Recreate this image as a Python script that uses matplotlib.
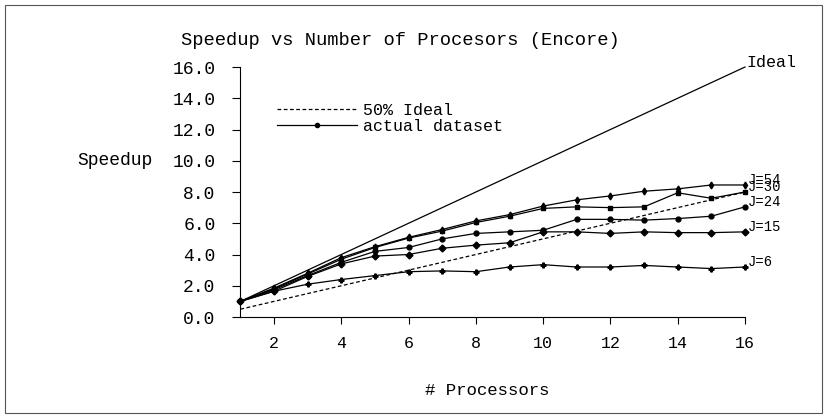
import numpy as np
import matplotlib
matplotlib.use("Agg")
from matplotlib import pyplot as plt
from matplotlib.lines import Line2D
from matplotlib.patches import Rectangle

plt.rcParams['font.family'] = ['Liberation Mono', 'DejaVu Sans Mono']

# data
procs = [1, 2, 3, 4, 5, 6, 7, 8, 9, 10, 11, 12, 13, 14, 15, 16]
ideal = [1, 2, 3, 4, 5, 6, 7, 8, 9, 10, 11, 12, 13, 14, 15, 16]
half_ideal = [0.5, 1.0, 1.5, 2.0, 2.5, 3.0, 3.5, 4.0, 4.5, 5.0, 5.5, 6.0, 6.5, 7.0, 7.5, 8.0]
j54 = [1.0, 1.85, 2.8, 3.8, 4.5, 5.1, 5.6, 6.15, 6.55, 7.1, 7.5, 7.75, 8.05, 8.2, 8.45, 8.45]
j30 = [1.0, 1.8, 2.75, 3.7, 4.45, 5.05, 5.5, 6.05, 6.45, 6.95, 7.05, 7.0, 7.05, 7.95, 7.6, 8.0]
j24 = [1.0, 1.75, 2.65, 3.5, 4.2, 4.45, 5.0, 5.35, 5.45, 5.55, 6.25, 6.25, 6.2, 6.3, 6.45, 7.05]
j15 = [1.0, 1.65, 2.6, 3.4, 3.9, 4.0, 4.4, 4.6, 4.75, 5.45, 5.45, 5.35, 5.45, 5.4, 5.4, 5.45]
j6 = [1.0, 1.65, 2.1, 2.4, 2.65, 2.9, 2.95, 2.9, 3.2, 3.35, 3.2, 3.2, 3.3, 3.2, 3.1, 3.2]

series = [("J=54", j54, 'd'), ("J=30", j30, 's'), ("J=24", j24, 'o'),
          ("J=15", j15, 'D'), ("J=6", j6, 'P')]

fig = plt.figure(figsize=(8.27, 4.17), dpi=100)
ax = fig.add_axes([0.2907, 0.2398, 0.6101, 0.5995])

# border around whole figure
fig.patches.append(Rectangle((0.006, 0.01), 0.988, 0.978, transform=fig.transFigure,
                             fill=False, lw=0.8, ec='#555555'))

ax.plot(procs, ideal, color='black', lw=0.9, clip_on=False)
ax.annotate("Ideal", (procs[-1], ideal[-1]), xytext=(1, 3), textcoords='offset points',
            fontsize=12, va='center', ha='left', annotation_clip=False)

ax.plot(procs, half_ideal, color='black', lw=0.9, ls=(0, (3, 2)), clip_on=False)

for name, vals, mk in series:
    ax.plot(procs, vals, color='black', lw=0.9, marker=mk, ms=3.5, clip_on=False)
    ax.annotate(name, (procs[-1], vals[-1]), xytext=(2, 3.5), textcoords='offset points',
                fontsize=10, va='center', ha='left', annotation_clip=False)

ax.set_xlim(1, 16)
ax.set_ylim(0, 16)
ax.set_xticks([2, 4, 6, 8, 10, 12, 14, 16])
ax.set_yticks(np.arange(0, 17, 2))
ax.set_yticklabels([f"{v:.1f}" for v in np.arange(0, 17, 2)])
ax.spines['top'].set_visible(False)
ax.spines['right'].set_visible(False)
ax.tick_params(axis='x', direction='out', length=5, width=0.8, pad=9, labelsize=12)
ax.tick_params(axis='y', direction='out', length=6, width=0.8, pad=12, labelsize=13)

ax.set_ylabel("Speedup", rotation=0, fontsize=13, ha='right', va='center')
ax.yaxis.set_label_coords(-0.175, 0.625)
ax.set_xlabel("# Processors", fontsize=12.5, va='center')
ax.xaxis.set_label_coords(0.49, -0.292)

fig.suptitle("Speedup vs Number of Procesors (Encore)", x=0.484, y=0.903,
             fontsize=13.5, va='center')

handles = [Line2D([], [], color='black', lw=0.9, ls=(0, (3, 2))),
           Line2D([], [], color='black', lw=0.9, marker='o', ms=3)]
leg = ax.legend(handles, ["50% Ideal", "actual dataset"], loc='upper left',
                bbox_to_anchor=(0.072, 0.855), frameon=False, fontsize=12,
                handlelength=4.8, handletextpad=0.4, labelspacing=0.03,
                borderpad=0, borderaxespad=0, numpoints=1)

fig.savefig("out.png", dpi=100)
